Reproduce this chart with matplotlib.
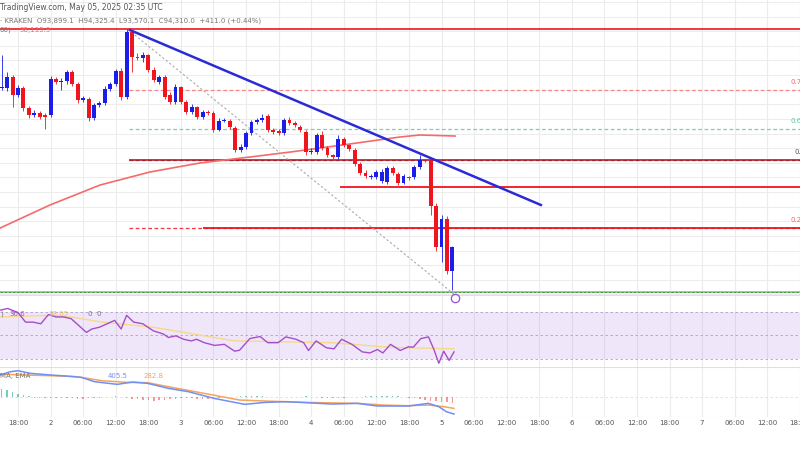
import matplotlib
matplotlib.use("Agg")
import matplotlib.pyplot as plt
from matplotlib.lines import Line2D

W, H = 800, 450
# ---------------- data ----------------
hours = list(range(-3, 81))
opens = [97029, 97029, 97217, 96910, 97029, 96687, 96568, 96602, 96568, 96568, 97183, 97132,
         97149, 97303, 97098, 96824, 96841, 96516, 96739, 96773, 97012, 97098, 97320, 96875,
         97987, 97559, 97542, 97593, 97337, 97132, 97217, 96910, 96790, 97046, 96790, 96619,
         96704, 96533, 96619, 96602, 96311, 96465, 96465, 96345, 95969, 96020, 96260, 96448,
         96482, 96550, 96311, 96294, 96260, 96482, 96431, 96362, 96277, 95934, 95934, 96226,
         96003, 95883, 95849, 96157, 96055, 95969, 95730, 95576, 95507, 95507, 95439, 95422,
         95661, 95559, 95405, 95507, 95507, 95678, 95798, 95798, 95011, 94310, 94789, 93900]
closes = [97046, 97217, 96910, 97029, 96687, 96568, 96602, 96533, 96533, 97183, 97132, 97149,
          97303, 97098, 96824, 96858, 96516, 96739, 96773, 97012, 97098, 97320, 96875, 97987,
          97559, 97542, 97593, 97337, 97166, 97217, 96875, 96790, 97046, 96790, 96619, 96704,
          96533, 96619, 96602, 96311, 96465, 96482, 96362, 95969, 96020, 96260, 96448, 96482,
          96516, 96311, 96277, 96260, 96482, 96431, 96397, 96311, 95934, 95952, 96226, 96003,
          95883, 95849, 96157, 96055, 95986, 95730, 95576, 95524, 95524, 95593, 95593, 95661,
          95576, 95405, 95524, 95490, 95678, 95798, 95790, 95011, 94310, 94789, 93900, 94310]
highs = [97590, 97300, 97260, 97080, 97060, 96720, 96650, 96640, 96600, 97230, 97220, 97200,
         97340, 97330, 97130, 96900, 96870, 96780, 96800, 97060, 97140, 97360, 97370, 98038,
         98000, 97630, 97640, 97610, 97380, 97260, 97260, 96960, 97100, 97070, 96830, 96760,
         96720, 96660, 96650, 96630, 96520, 96520, 96500, 96380, 96070, 96300, 96480, 96520,
         96590, 96580, 96340, 96330, 96520, 96530, 96460, 96400, 96310, 96000, 96260, 96300,
         96040, 95900, 96220, 96190, 96080, 96000, 95760, 95630, 95560, 95620, 95640, 95700,
         95700, 95600, 95560, 95530, 95720, 95880, 95820, 95820, 95060, 94860, 94840, 94325]
lows = [96990, 96980, 96700, 96870, 96640, 96520, 96540, 96500, 96330, 96540, 97090, 96990,
        97100, 97060, 96780, 96790, 96470, 96490, 96700, 96740, 96980, 97060, 96820, 96840,
        97300, 97500, 97480, 97300, 97130, 97090, 96840, 96750, 96760, 96750, 96580, 96590,
        96500, 96500, 96570, 96280, 96290, 96440, 96330, 95940, 95940, 95990, 96230, 96420,
        96450, 96280, 96240, 96220, 96230, 96400, 96360, 96280, 95880, 95900, 95900, 95970,
        95850, 95810, 95820, 96020, 95950, 95700, 95540, 95490, 95470, 95480, 95410, 95390,
        95540, 95370, 95380, 95460, 95480, 95650, 95760, 94850, 94240, 94050, 93850, 93570]

sma_hours = [-3.3, 5.9, 15.1, 24.3, 33.5, 42.7, 50.1, 61.1, 70.3, 74.0, 80.5]
sma_values = [94635, 95029, 95370, 95593, 95747, 95849, 95934, 96072, 96191, 96226, 96208]

trend_hours = [20.6, 96.3]
trend_values = [98021, 95029]
diag_hours = [21.5, 80.5]
diag_values = [97936, 93490]

top_level = 98038
fib_levels = [96995, 96328, 95798, 94635]
fib_names = ["0.786(96995.0)", "0.618(96328.2)", "0.5(95798.4)", "0.236(94635.2)"]
res_level = 95336
support_level = 93541

rsi_hours = [-3.3, -1.9, 0.0, 1.4, 2.8, 4.2, 5.6, 7.0, 8.4, 9.8,
             11.2, 12.6, 13.6, 15.0, 16.4, 17.8, 19.0, 20.0, 21.3, 23.0,
             24.9, 26.8, 27.7, 29.1, 30.5, 31.9, 32.9, 34.3, 36.2, 38.0,
             39.9, 40.8, 42.7, 44.6, 46.0, 47.9, 49.3, 51.2, 52.6, 53.5,
             54.9, 56.8, 58.2, 59.6, 61.5, 63.4, 64.8, 66.2, 67.2, 68.6,
             70.4, 71.9, 72.8, 74.2, 75.6, 76.6, 77.5, 78.4, 79.4, 80.3]
rsi_values = [71.1, 72.6, 69.1, 61.0, 61.0, 59.6, 67.4, 65.4, 65.4, 63.9,
              58.1, 52.3, 55.2, 56.7, 59.6, 62.5, 55.2, 66.8, 61.0, 59.6,
              53.7, 50.9, 48.0, 49.4, 46.5, 45.1, 46.5, 43.6, 41.3, 42.2,
              36.4, 37.2, 47.1, 48.8, 43.6, 43.6, 48.5, 46.5, 43.6, 37.0,
              45.1, 39.3, 38.4, 46.5, 42.2, 35.8, 34.9, 37.8, 34.9, 42.2,
              37.0, 40.1, 39.8, 47.1, 48.5, 37.8, 26.2, 36.4, 28.6, 35.8]
rsi_ma_hours = [-3.3, 6.1, 9.8, 15.5, 24.9, 34.3, 40.0, 48.4, 57.8, 67.2, 71.8, 80.3]
rsi_ma_values = [65.4, 66.8, 65.4, 61.0, 56.7, 49.4, 45.1, 44.4, 43.6, 40.1, 39.3, 38.4]

macd_hours = [-3.3, -1.4, 0.0, 2.3, 6.1, 8.9, 11.7, 14.1, 18.3, 21.1, 23.9, 27.7, 31.4, 36.1,
              39.9, 41.8, 45.5, 49.3, 53.1, 57.8, 62.5, 66.2, 71.9, 75.6, 77.5, 78.9, 80.3]
macd_values = [507, 585, 608, 546, 507, 484, 452, 351, 289, 343, 312, 195, 117, -39,
               -133, -179, -133, -117, -140, -172, -156, -218, -218, -156, -234, -351, -406]
signal_hours = [-3.3, 1.4, 6.1, 10.8, 15.5, 20.2, 23.9, 27.7, 34.3, 40.8, 45.5, 53.1,
                62.5, 67.2, 71.9, 75.6, 78.4, 80.3]
signal_values = [530, 507, 491, 468, 374, 335, 328, 234, 78, -78, -101, -133,
                 -156, -195, -211, -195, -234, -273]
hist_values = [190, 150, 110, 70, 30, 10, -20, -30, -40, -30, -20, -30,
               -40, -30, -50, -60, -40, -30, -20, -10, 0, 10, -10, -30,
               -50, -60, -70, -80, -90, -80, -70, -60, -50, -40, -30, -40,
               -50, -60, -50, -40, -30, -20, -10, 0, 10, 20, 15, 10,
               5, 0, -5, -10, -15, -10, -5, 0, 5, -5, -10, -20,
               -30, -40, -30, -20, -10, -5, 0, 5, 10, 15, 20, 25,
               15, 5, -10, -20, -40, -60, -80, -100, -110, -120, -130, -140]

tick_hours = list(range(0, 145, 6))
tick_labels = ["18:00", "2", "06:00", "12:00", "18:00", "3", "06:00", "12:00", "18:00",
               "4", "06:00", "12:00", "18:00", "5", "06:00", "12:00", "18:00",
               "6", "06:00", "12:00", "18:00", "7", "06:00", "12:00", "18:00"]

# ---------------- layout ----------------
XMIN, XMAX = -3.315, 144.02
RED, BLUE = "#f0141e", "#1a1ee8"
GRID = "#ececec"

fig = plt.figure(figsize=(8, 4.5), dpi=100)
fig.patch.set_facecolor("white")

def pane(top, bottom):
    return fig.add_axes([0, 1 - bottom / H, 1, (bottom - top) / H])

ax = pane(0, 295)
ax_rsi = pane(295, 367)
ax_macd = pane(367, 417)

for a in (ax, ax_rsi, ax_macd):
    a.set_xlim(XMIN, XMAX)
    for s in a.spines.values():
        s.set_visible(False)
    a.tick_params(left=False, bottom=False, labelleft=False, labelbottom=False)
    for th in tick_hours:
        a.axvline(th, color=GRID, lw=0.8, zorder=0)

# main price pane
ax.set_ylim(93490, 98534)
for p in range(93500, 98600, 250):
    ax.axhline(p, color=GRID, lw=0.7, zorder=0)

ax.axhline(top_level, color=RED, lw=1.2, zorder=2)
fib_colors = ["#f7868a", "#7fcfb5", "#a02030", "#f23645"]
for lvl, col in zip(fib_levels, fib_colors):
    ax.hlines(lvl, 20.5, XMAX, colors=col, linestyles=(0, (3, 2)), lw=0.9, zorder=2)
ax.hlines(fib_levels[2], 20.5, XMAX, colors="#b0202c", lw=1.2, zorder=2)
ax.hlines(fib_levels[3], 34.0, XMAX, colors=RED, lw=1.3, zorder=2)
ax.hlines(res_level, 59.3, XMAX, colors=RED, lw=1.3, zorder=2)
ax.axhline(support_level, color="#8fd08f", lw=1.4, zorder=2)
ax.axhline(support_level, color="#3f8f3f", lw=0.6, ls=(0, (3, 2)), zorder=2)

label_cols = ["#f26670", "#5cc3a0", "#555555", "#f26670"]
offs = [-5.6, -5.6, -5.6, -5.6]
for lvl, nm, col in zip(fib_levels, fib_names, label_cols):
    ax.text(142.2 if nm != "0.5(95798.4)" else 143.0, lvl + 80, nm, color=col,
            fontsize=5, va="bottom", ha="left", clip_on=False)

ax.plot(sma_hours, sma_values, color="#f56b6b", lw=1.2, zorder=3)
ax.plot(diag_hours, diag_values, color="#aaaaaa", lw=0.8, ls=(0, (2, 2)), zorder=3)
ax.plot(trend_hours, trend_values, color="#2b2bd6", lw=1.8, zorder=5)

for t, o, c, hi, lo in zip(hours, opens, closes, highs, lows):
    col = BLUE if c >= o else RED
    ax.vlines(t, lo, hi, colors=col, lw=0.6, zorder=4)
    ax.bar(t, max(abs(c - o), 12), bottom=min(o, c), width=0.72, color=col, zorder=4)

# RSI pane
ax_rsi.set_ylim(23, 84)
ax_rsi.axhspan(30, 70, color="#9c6ade", alpha=0.16, lw=0, zorder=1)
for lv in (70, 50, 30):
    ax_rsi.axhline(lv, color="#b0a0c8", lw=0.6, ls=(0, (3, 3)), zorder=2)
ax_rsi.plot(rsi_ma_hours, rsi_ma_values, color="#f7d88a", lw=1.0, zorder=3)
ax_rsi.plot(rsi_hours, rsi_values, color="#a54ec9", lw=1.0, zorder=4)
ax_rsi.axhline(84, color="#e0e0e0", lw=0.8)

# MACD pane
ax_macd.set_ylim(-475, 695)
ax_macd.axhline(0, color="#dddddd", lw=0.6, ls=(0, (3, 3)))
ax_macd.bar(hours, hist_values, width=0.28,
            color=["#26a69a" if v >= 0 else "#ef5350" for v in hist_values], alpha=0.6, zorder=2)
ax_macd.plot(signal_hours, signal_values, color="#f7a35c", lw=1.1, zorder=3)
ax_macd.plot(macd_hours, macd_values, color="#6f8ff5", lw=1.1, zorder=4)
ax_macd.axhline(695, color="#e0e0e0", lw=0.8)
ax_macd.axhline(-475, color="#e0e0e0", lw=0.8)

# x tick labels
for th, lb in zip(tick_hours, tick_labels):
    fig.text((th - XMIN) / (XMAX - XMIN), 1 - 423 / H, lb, fontsize=5, color="#555555",
             ha="center", va="center")

# header texts
fig.text(0.0, 1 - 7 / H, "TradingView.com, May 05, 2025 02:35 UTC", fontsize=5.5,
         color="#555555", va="center")
fig.text(0.0, 1 - 21 / H, "· KRAKEN  O93,899.1  H94,325.4  L93,570.1  C94,310.0  +411.0 (+0.44%)",
         fontsize=5, color="#777777", va="center")
fig.text(0.0, 1 - 30 / H, "00)", fontsize=5, color="#777777", va="center")
fig.text(0.025, 1 - 30 / H, "98,115.9", fontsize=5, color="#f26670", va="center")
fig.text(0.0, 1 - 314 / H, ")", fontsize=5, color="#777777", va="center")
fig.text(0.012, 1 - 314 / H, "36.6", fontsize=5, color="#a54ec9", va="center")
fig.text(0.06, 1 - 314 / H, "38.05", fontsize=5, color="#e8c05a", va="center")
fig.text(0.11, 1 - 314 / H, "0  0", fontsize=5, color="#777777", va="center")
fig.text(0.0, 1 - 376 / H, "MA, EMA", fontsize=5, color="#777777", va="center")
fig.text(0.135, 1 - 376 / H, "405.5", fontsize=5, color="#6f8ff5", va="center")
fig.text(0.18, 1 - 376 / H, "282.8", fontsize=5, color="#f7a35c", va="center")

# event icon below last candle
fig.add_artist(Line2D([455 / W], [1 - 298 / H], marker="o", markersize=6, markerfacecolor="none",
                      markeredgecolor="#9c4fd0", markeredgewidth=0.9, transform=fig.transFigure))

fig.savefig("out.png", dpi=100)
